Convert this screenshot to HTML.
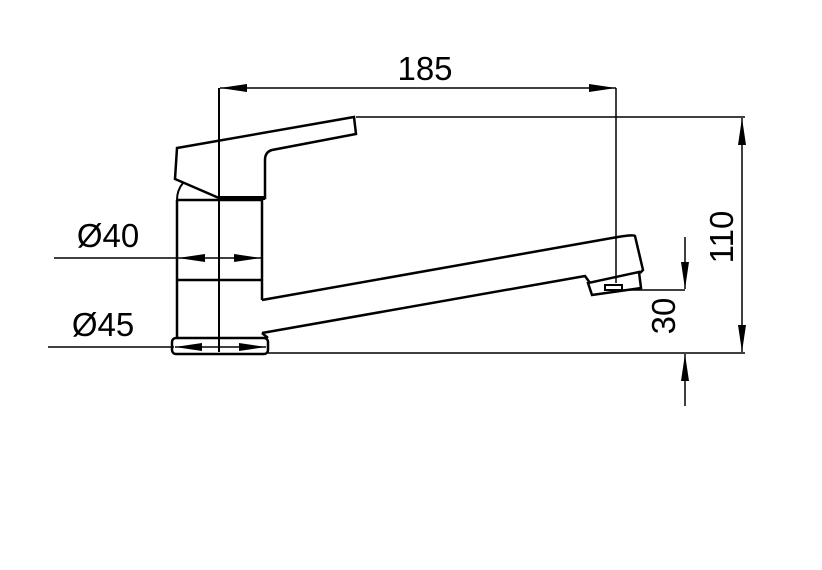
<!DOCTYPE html>
<html><head><style>body{margin:0;background:#fff}svg{display:block}</style></head><body>
<svg width="822" height="570" viewBox="0 0 822 570" xmlns="http://www.w3.org/2000/svg">
<defs>
<marker id="a" viewBox="0 0 27 8" refX="27" refY="4" markerWidth="27" markerHeight="8" markerUnits="userSpaceOnUse" orient="auto-start-reverse"><path d="M27,4 L0,0 L0,8 Z" fill="#000"/></marker>
</defs>
<g fill="none" stroke="#000" stroke-width="2">
<line x1="219" y1="88" x2="219" y2="352"/>
<path d="M177,148 L354,117 L356,134 L272,150 Q265,152 265,160 L265,198 L219,198 L175,179 Z" stroke-width="2.5"/>
<line x1="219" y1="198" x2="265" y2="198" stroke-width="4"/>
<path d="M177,200 Q177,190 183,183"/>
<line x1="177" y1="200" x2="177" y2="339" stroke-width="2.5"/>
<line x1="177" y1="200" x2="262" y2="200" stroke-width="2.5"/>
<line x1="262" y1="200" x2="262" y2="300" stroke-width="2.5"/>
<line x1="177" y1="280" x2="262" y2="280" stroke-width="2.5"/>
<path d="M262,300 L612,238 Q634,234 635,236 L643,270 L640,273" stroke-width="2.5"/>
<path d="M262,333 L585,276 L590,283" stroke-width="2.5"/>
<path d="M588,283 L592,295 L641,288 L639,272 Z" stroke-width="2.5"/>
<rect x="605" y="285" width="17" height="5" stroke-width="2"/>
<path d="M262,333 L268,338" stroke-width="2.5"/>
<rect x="172" y="338" width="96" height="16" rx="4" stroke-width="2.5"/>
<line x1="616" y1="88" x2="616" y2="283" stroke-width="1.5"/>
<line x1="220" y1="88" x2="616" y2="88" stroke-width="1.5" marker-start="url(#a)" marker-end="url(#a)"/>
<line x1="356" y1="117" x2="745" y2="117" stroke-width="1.5"/>
<line x1="268" y1="353" x2="745" y2="353" stroke-width="1.5"/>
<line x1="742" y1="118" x2="742" y2="352" stroke-width="1.5" marker-start="url(#a)" marker-end="url(#a)"/>
<line x1="622" y1="290" x2="685" y2="290" stroke-width="1.5"/>
<line x1="685" y1="237" x2="685" y2="289" stroke-width="1.5" marker-end="url(#a)"/>
<line x1="685" y1="406" x2="685" y2="354" stroke-width="1.5" marker-end="url(#a)"/>
<line x1="54" y1="258" x2="177" y2="258" stroke-width="1.5"/>
<line x1="178" y1="258" x2="261" y2="258" stroke-width="1.5" marker-start="url(#a)" marker-end="url(#a)"/>
<line x1="48" y1="347" x2="174" y2="347" stroke-width="1.5"/>
<line x1="175" y1="347" x2="266" y2="347" stroke-width="1.5" marker-start="url(#a)" marker-end="url(#a)"/>
</g>
<g font-family="Liberation Sans, sans-serif" font-size="33" fill="#000">
<text x="425" y="80" text-anchor="middle">185</text>
<text x="108" y="247" text-anchor="middle">Ø40</text>
<text x="103" y="336" text-anchor="middle">Ø45</text>
<text transform="translate(733,237) rotate(-90)" text-anchor="middle">110</text>
<text transform="translate(675,316) rotate(-90)" text-anchor="middle">30</text>
</g>
</svg>
</body></html>
